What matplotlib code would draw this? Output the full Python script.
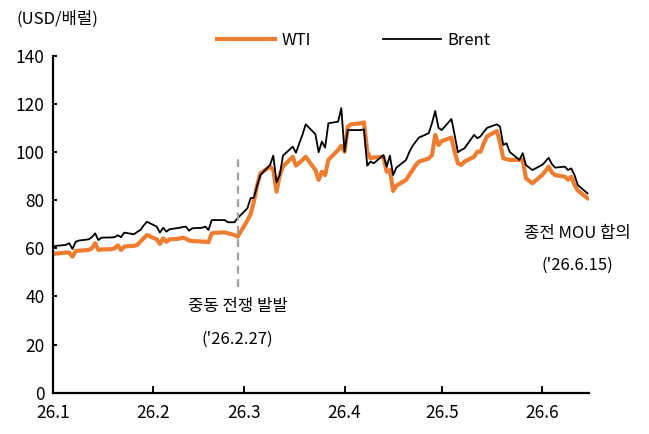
import matplotlib
matplotlib.use("Agg")
import matplotlib.pyplot as plt
import matplotlib.dates as mdates
import pandas as pd

plt.rcParams["font.family"] = ["Noto Sans CJK KR", "DejaVu Sans"]

# weekday dates, 2026-01-01 .. 2026-06-15
dates = pd.bdate_range("2026-01-01", "2026-06-15")

# Brent, USD/bbl
brent = [
    # Jan
    60.7, 61.0, 61.4, 62.1, 59.7, 62.7, 63.2, 63.7, 64.6, 66.2, 63.4,
    64.4, 64.5, 64.6, 65.4, 64.6, 66.5, 65.8, 66.8, 67.6, 69.5, 71.0,
    # Feb
    69.0, 66.5, 68.5, 66.9, 67.9, 68.5, 68.8, 69.0, 67.3, 68.3,
    68.5, 69.0, 67.6, 71.7, 71.7, 71.7, 70.8, 70.8, 70.8, 72.5,
    # Mar
    76.6, 80.8, 81.0, 86.0, 90.4, 94.6, 98.5, 87.4, 90.4, 98.5, 102.2,
    99.7, 103.5, 107.1, 111.5, 107.4, 99.9, 104.3, 101.8, 111.9, 112.6, 118.2,
    # Apr
    100.1, 109.1, 109.1, 109.1, 109.4, 94.3, 96.0, 95.3, 98.7, 93.9, 98.5,
    90.4, 93.5, 96.7, 100.0, 102.5, 104.3, 106.0, 107.8, 112.0, 117.0, 110.0,
    # May
    109.1, 113.7, 107.0, 99.9, 100.8, 101.5, 107.1, 105.7, 106.5, 108.4, 110.0,
    111.5, 110.5, 102.9, 103.6, 100.0, 96.7, 99.5, 94.6, 93.5, 92.5,
    # Jun
    94.6, 96.0, 97.6, 95.0, 93.5, 93.9, 92.5, 93.2, 90.4, 86.3, 82.8,
]

# WTI, USD/bbl
wti = [
    # Jan
    57.6, 57.8, 58.2, 58.2, 56.5, 58.9, 59.0, 59.3, 60.0, 62.1, 59.3,
    59.5, 59.6, 60.0, 61.2, 59.3, 60.7, 61.0, 61.4, 62.8, 64.2, 65.5,
    # Feb
    63.7, 61.8, 64.1, 62.7, 63.7, 64.0, 64.4, 64.0, 63.2, 63.0,
    62.8, 62.7, 62.5, 66.2, 66.4, 66.6, 66.2, 65.9, 65.5, 64.8,
    # Mar
    71.5, 74.1, 79.4, 86.0, 91.1, 93.9, 92.5, 83.5, 90.4, 94.0, 98.0,
    94.3, 95.5, 96.7, 98.0, 92.5, 88.4, 91.8, 90.4, 96.7, 100.8, 102.6,
    # Apr
    100.1, 110.5, 111.5, 111.9, 112.3, 100.1, 97.4, 97.7, 98.0, 91.8, 92.5,
    83.8, 86.0, 88.4, 90.5, 92.5, 94.6, 96.0, 97.3, 98.7, 107.1, 102.9,
    # May
    104.5, 106.0, 100.0, 95.3, 94.6, 96.0, 98.0, 100.1, 100.1, 103.6, 106.5,
    108.7, 104.0, 97.4, 97.0, 96.7, 96.7, 96.7, 89.1, 88.0, 87.0,
    # Jun
    90.4, 92.0, 93.9, 91.5, 90.4, 89.7, 88.5, 89.7, 86.3, 84.0, 80.8,
]

month_ticks = pd.to_datetime(["2026-01-01", "2026-02-01", "2026-03-01",
                              "2026-04-01", "2026-05-01", "2026-06-01"])
month_labels = ["26.1", "26.2", "26.3", "26.4", "26.5", "26.6"]

war_date = pd.Timestamp("2026-02-27")

ORANGE = "#ED7D31"

fig = plt.figure(figsize=(6.49, 4.34), dpi=100)
ax = fig.add_axes([0.0817, 0.0952, 0.826, 0.7765])

ax.plot(dates, wti, color=ORANGE, lw=3.0, label="WTI", solid_joinstyle="round")
ax.plot(dates, brent, color="black", lw=1.3, label="Brent")

# event marker
ax.vlines(war_date, 44, 97, colors="#A0A0A0", linestyles=(0, (3.5, 2.5)), lw=1.6)

ax.set_ylim(0, 140)
ax.set_xlim(pd.Timestamp("2026-01-01"), pd.Timestamp("2026-06-15 12:00"))
ax.set_yticks(range(0, 141, 20))
ax.set_xticks(month_ticks)
ax.set_xticklabels(month_labels)

for s in ["top", "right"]:
    ax.spines[s].set_visible(False)
for s in ["left", "bottom"]:
    ax.spines[s].set_linewidth(1.6)
ax.tick_params(axis="x", direction="in", length=5, width=1.4, labelsize=12.5, pad=8)
ax.tick_params(axis="y", direction="in", length=3, width=1.4, labelsize=12.5, pad=6)

fig.text(0.026, 0.955, "(USD/배럴)", fontsize=12, ha="left", va="center")

fig.legend(loc="center", bbox_to_anchor=(0.545, 0.906), ncol=2, frameon=False,
           fontsize=12, handlelength=3.5, columnspacing=4.3, handletextpad=0.4)

ax.text(mdates.date2num(war_date), 36, "중동 전쟁 발발", ha="center", va="center", fontsize=12)
ax.text(mdates.date2num(war_date), 22, "('26.2.27)", ha="center", va="center", fontsize=12)
ax.text(pd.Timestamp("2026-06-12"), 66, "종전 MOU 합의", ha="center", va="center", fontsize=12)
ax.text(pd.Timestamp("2026-06-12"), 53, "('26.6.15)", ha="center", va="center", fontsize=12)

fig.savefig("out.png", dpi=100)
